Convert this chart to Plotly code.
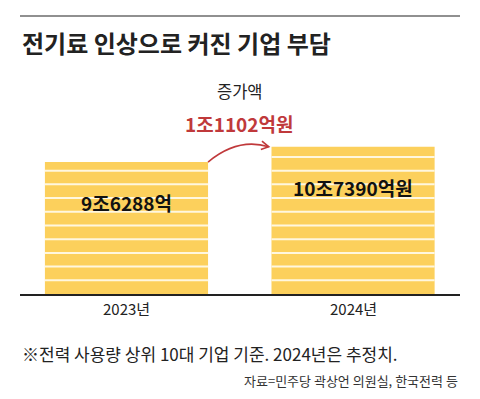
import plotly.graph_objects as go

# ---- data ----
categories = ["2023년", "2024년"]
values = [9.6288, 10.7390]          # 조원
bar_labels = ["9조6288억", "10조7390억원"]
increase_label = "1조1102억원"
increase_title = "증가액"
title = "전기료 인상으로 커진 기업 부담"
footnote = "※전력 사용량 상위 10대 기업 기준. 2024년은 추정치."
source = "자료=민주당 곽상언 의원실, 한국전력 등"

W, H = 480, 399
ML, MR, MT, MB = 20, 20, 60, 105
PH = H - MT - MB
BAR_W = 0.72
YMAX = 17.07
FONT = "Noto Sans CJK KR, Noto Sans, sans-serif"
BAR_COLOR = "#FCD05C"
RED = "#C0393B"

def py(ypix):
    return (H - MB - ypix) / PH

xs = list(range(len(categories)))

fig = go.Figure()
fig.add_trace(go.Bar(
    x=xs, y=values, width=BAR_W, marker=dict(color=BAR_COLOR, line=dict(width=0)),
    hoverinfo="skip", showlegend=False,
))

shapes = []
# white stripes at each whole unit
for x, v in zip(xs, values):
    k = 1
    while k < v:
        shapes.append(dict(type="line", xref="x", yref="y",
                           x0=x - BAR_W / 2, x1=x + BAR_W / 2, y0=k, y1=k,
                           line=dict(color="#FFF7DF", width=2), layer="above"))
        k += 1

# curved arrow from top of first bar to top of second bar
x0 = xs[0] + BAR_W / 2
y0 = values[0]
x1 = xs[1] - BAR_W / 2 - 0.012
y1 = values[1] + 0.0
path = (f"M {x0},{y0} C {x0 + 0.08},{y0 + 1.1} {x0 + 0.17},{y1 + 0.5} {x1},{y1}")
shapes.append(dict(type="path", xref="x", yref="y", path=path,
                   line=dict(color=RED, width=1.6)))
# arrowhead
ah = (f"M {x1 - 0.03},{y1 + 0.42} L {x1},{y1} L {x1 - 0.035},{y1 - 0.2}")
shapes.append(dict(type="path", xref="x", yref="y", path=ah,
                   line=dict(color=RED, width=1.6)))

# top rule
shapes.append(dict(type="line", xref="paper", yref="paper", x0=0, x1=1,
                   y0=py(16), y1=py(16), line=dict(color="#222", width=1.2)))

annotations = []
annotations.append(dict(text=f"<b>{title}</b>", xref="paper", yref="paper", x=0, y=py(42),
                        xanchor="left", yanchor="middle", showarrow=False,
                        font=dict(size=24, color="#222", family=FONT)))
mid = (xs[0] + xs[1]) / 2
annotations.append(dict(text=increase_title, xref="x", yref="paper", x=mid, y=py(91),
                        xanchor="center", yanchor="middle", showarrow=False,
                        font=dict(size=16.5, color="#222", family=FONT)))
annotations.append(dict(text=f"<b>{increase_label}</b>", xref="x", yref="paper", x=mid, y=py(123),
                        xanchor="center", yanchor="middle", showarrow=False,
                        font=dict(size=19, color=RED, family=FONT)))
for x, v, lab in zip(xs, values, bar_labels):
    annotations.append(dict(text=f"<b>{lab}</b>", xref="x", yref="y", x=x, y=v - 2.95,
                            xanchor="center", yanchor="middle", showarrow=False,
                            font=dict(size=19, color="#111", family=FONT)))
for x, c in zip(xs, categories):
    annotations.append(dict(text=c, xref="x", yref="paper", x=x, y=py(308),
                            xanchor="center", yanchor="middle", showarrow=False,
                            font=dict(size=15, color="#222", family=FONT)))
annotations.append(dict(text=footnote, xref="paper", yref="paper", x=0, y=py(353),
                        xanchor="left", yanchor="middle", showarrow=False,
                        font=dict(size=17, color="#222", family=FONT)))
annotations.append(dict(text=source, xref="paper", yref="paper", x=1, y=py(380),
                        xanchor="right", yanchor="middle", showarrow=False,
                        font=dict(size=13, color="#333", family=FONT)))

fig.update_layout(
    width=W, height=H,
    margin=dict(l=ML, r=MR, t=MT, b=MB, pad=0),
    paper_bgcolor="white", plot_bgcolor="white",
    xaxis=dict(range=[-0.47, 1.472], showgrid=False, zeroline=False, showticklabels=False,
               showline=True, linecolor="#222", linewidth=1.5, ticks="", fixedrange=True),
    yaxis=dict(range=[0, YMAX], showgrid=False, zeroline=False, showticklabels=False,
               showline=False, fixedrange=True),
    shapes=shapes, annotations=annotations,
    font=dict(family=FONT),
)

fig.write_html("out.html", config={"displayModeBar": False})
